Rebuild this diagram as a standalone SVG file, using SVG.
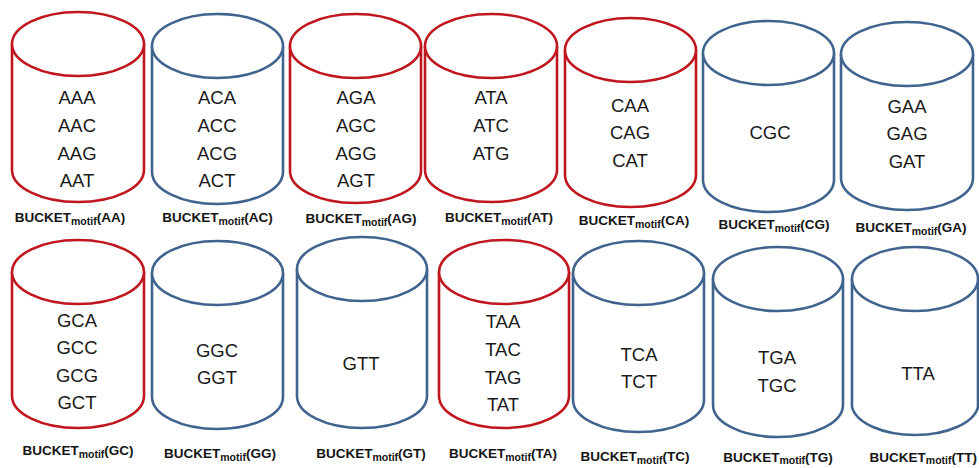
<svg xmlns="http://www.w3.org/2000/svg" width="979" height="468" viewBox="0 0 979 468">
<style>
.cyl path, .cyl ellipse { fill: #ffffff; stroke-width: 2.6; }
.red path, .red ellipse { stroke: #C0161E; }
.blue path, .blue ellipse { stroke: #41648F; }
.seq { font-family: "Liberation Sans", Arial, sans-serif; font-size: 18.5px; fill: #1a1a1a; text-anchor: middle; }
.lbl { font-family: "Liberation Sans", Arial, sans-serif; font-size: 13.5px; font-weight: bold; fill: #151515; text-anchor: middle; }
.lbl .sub { font-size: 10.5px; }
</style>
<rect width="979" height="468" fill="#ffffff"/>

<!-- Top row -->
<g id="bucket-AA" class="cyl red">
  <path d="M12 44 L12 170 A66 32 0 0 0 144 170 L144 44"/>
  <ellipse cx="78" cy="44" rx="66" ry="32"/>
  <text class="seq" x="77" y="104">AAA</text>
  <text class="seq" x="77" y="131.5">AAC</text>
  <text class="seq" x="77" y="159.5">AAG</text>
  <text class="seq" x="77" y="186.5">AAT</text>
  <text class="lbl" x="70" y="222">BUCKET<tspan class="sub" dy="3">motif</tspan><tspan dy="-3">(AA)</tspan></text>
</g>
<g id="bucket-AC" class="cyl blue">
  <path d="M152 46 L152 172 A65.5 32 0 0 0 283 172 L283 46"/>
  <ellipse cx="217.5" cy="46" rx="65.5" ry="32"/>
  <text class="seq" x="217" y="104">ACA</text>
  <text class="seq" x="217" y="131.5">ACC</text>
  <text class="seq" x="217" y="159.5">ACG</text>
  <text class="seq" x="217" y="186.5">ACT</text>
  <text class="lbl" x="217.5" y="222">BUCKET<tspan class="sub" dy="3">motif</tspan><tspan dy="-3">(AC)</tspan></text>
</g>
<g id="bucket-AG" class="cyl red">
  <path d="M290 46 L290 171 A65.5 32 0 0 0 421 171 L421 46"/>
  <ellipse cx="355.5" cy="46" rx="65.5" ry="32"/>
  <text class="seq" x="356" y="104">AGA</text>
  <text class="seq" x="356" y="131.5">AGC</text>
  <text class="seq" x="356" y="159.5">AGG</text>
  <text class="seq" x="356" y="186.5">AGT</text>
  <text class="lbl" x="361" y="223">BUCKET<tspan class="sub" dy="3">motif</tspan><tspan dy="-3">(AG)</tspan></text>
</g>
<g id="bucket-AT" class="cyl red">
  <path d="M425 46 L425 170 A66 32 0 0 0 557 170 L557 46"/>
  <ellipse cx="491" cy="46" rx="66" ry="32"/>
  <text class="seq" x="491" y="104">ATA</text>
  <text class="seq" x="491" y="131.5">ATC</text>
  <text class="seq" x="491" y="159.5">ATG</text>
  <text class="lbl" x="499" y="222">BUCKET<tspan class="sub" dy="3">motif</tspan><tspan dy="-3">(AT)</tspan></text>
</g>
<g id="bucket-CA" class="cyl red">
  <path d="M565 50 L565 175 A65.5 32 0 0 0 696 175 L696 50"/>
  <ellipse cx="630.5" cy="50" rx="65.5" ry="32"/>
  <text class="seq" x="630" y="111.5">CAA</text>
  <text class="seq" x="630" y="139">CAG</text>
  <text class="seq" x="630" y="166.5">CAT</text>
  <text class="lbl" x="634" y="225">BUCKET<tspan class="sub" dy="3">motif</tspan><tspan dy="-3">(CA)</tspan></text>
</g>
<g id="bucket-CG" class="cyl blue">
  <path d="M703 53 L703 180 A65.5 32 0 0 0 834 180 L834 53"/>
  <ellipse cx="768.5" cy="53" rx="65.5" ry="32"/>
  <text class="seq" x="770" y="139">CGC</text>
  <text class="lbl" x="774" y="229">BUCKET<tspan class="sub" dy="3">motif</tspan><tspan dy="-3">(CG)</tspan></text>
</g>
<g id="bucket-GA" class="cyl blue">
  <path d="M841 54 L841 178 A66 32 0 0 0 973 178 L973 54"/>
  <ellipse cx="907" cy="54" rx="66" ry="32"/>
  <text class="seq" x="907" y="112.5">GAA</text>
  <text class="seq" x="907" y="140">GAG</text>
  <text class="seq" x="907" y="168">GAT</text>
  <text class="lbl" x="911" y="232">BUCKET<tspan class="sub" dy="3">motif</tspan><tspan dy="-3">(GA)</tspan></text>
</g>

<!-- Bottom row -->
<g id="bucket-GC" class="cyl red">
  <path d="M12 272 L12 396 A66 32 0 0 0 144 396 L144 272"/>
  <ellipse cx="78" cy="272" rx="66" ry="32"/>
  <text class="seq" x="77" y="326.5">GCA</text>
  <text class="seq" x="77" y="354">GCC</text>
  <text class="seq" x="77" y="381.5">GCG</text>
  <text class="seq" x="77" y="409">GCT</text>
  <text class="lbl" x="78" y="455">BUCKET<tspan class="sub" dy="3">motif</tspan><tspan dy="-3">(GC)</tspan></text>
</g>
<g id="bucket-GG" class="cyl blue">
  <path d="M152 273 L152 397 A65.5 32 0 0 0 283 397 L283 273"/>
  <ellipse cx="217.5" cy="273" rx="65.5" ry="32"/>
  <text class="seq" x="217" y="357">GGC</text>
  <text class="seq" x="217" y="384">GGT</text>
  <text class="lbl" x="220" y="458">BUCKET<tspan class="sub" dy="3">motif</tspan><tspan dy="-3">(GG)</tspan></text>
</g>
<g id="bucket-GT" class="cyl blue">
  <path d="M297 269 L297 396 A65 32 0 0 0 427 396 L427 269"/>
  <ellipse cx="362" cy="269" rx="65" ry="32"/>
  <text class="seq" x="361" y="370">GTT</text>
  <text class="lbl" x="371" y="458">BUCKET<tspan class="sub" dy="3">motif</tspan><tspan dy="-3">(GT)</tspan></text>
</g>
<g id="bucket-TA" class="cyl red">
  <path d="M439 272 L439 396 A65 32 0 0 0 569 396 L569 272"/>
  <ellipse cx="504" cy="272" rx="65" ry="32"/>
  <text class="seq" x="503" y="328">TAA</text>
  <text class="seq" x="503" y="356">TAC</text>
  <text class="seq" x="503" y="384">TAG</text>
  <text class="seq" x="503" y="411">TAT</text>
  <text class="lbl" x="503" y="458">BUCKET<tspan class="sub" dy="3">motif</tspan><tspan dy="-3">(TA)</tspan></text>
</g>
<g id="bucket-TC" class="cyl blue">
  <path d="M573 273 L573 400 A65.5 32 0 0 0 704 400 L704 273"/>
  <ellipse cx="638.5" cy="273" rx="65.5" ry="32"/>
  <text class="seq" x="639" y="361">TCA</text>
  <text class="seq" x="639" y="388">TCT</text>
  <text class="lbl" x="635" y="461">BUCKET<tspan class="sub" dy="3">motif</tspan><tspan dy="-3">(TC)</tspan></text>
</g>
<g id="bucket-TG" class="cyl blue">
  <path d="M713 279 L713 405 A65 32 0 0 0 843 405 L843 279"/>
  <ellipse cx="778" cy="279" rx="65" ry="32"/>
  <text class="seq" x="777" y="363.5">TGA</text>
  <text class="seq" x="777" y="391.5">TGC</text>
  <text class="lbl" x="778" y="461.5">BUCKET<tspan class="sub" dy="2.5">motif</tspan><tspan dy="-2.5">(TG)</tspan></text>
</g>
<g id="bucket-TT" class="cyl blue">
  <path d="M852 279 L852 407 A63.5 32 0 0 0 978 407 L978 279"/>
  <ellipse cx="915" cy="279" rx="63" ry="32"/>
  <text class="seq" x="918" y="380">TTA</text>
  <text class="lbl" x="977" y="461.5" style="text-anchor:end">BUCKET<tspan class="sub" dy="2.5">motif</tspan><tspan dy="-2.5">(TT)</tspan></text>
</g>

<g id="connectors"></g>
</svg>
